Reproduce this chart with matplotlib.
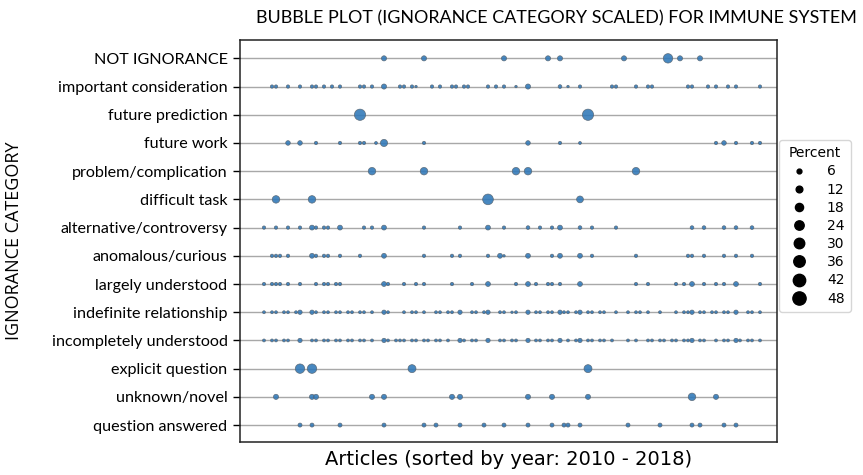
import matplotlib
matplotlib.use("Agg")
import matplotlib.pyplot as plt
from matplotlib.lines import Line2D

# ignorance categories, top to bottom
categories = ["NOT IGNORANCE", "important consideration", "future prediction",
              "future work", "problem/complication", "difficult task",
              "alternative/controversy", "anomalous/curious", "largely understood",
              "indefinite relationship", "incompletely understood",
              "explicit question", "unknown/novel", "question answered"]

# article index (sorted by year) and percent for each category
not_ignorance_x = [30, 40, 60, 71, 74, 90, 101, 104, 109]
not_ignorance_pct = [10, 10, 10, 10, 10, 10, 35, 10, 10]

important_x = [2, 3, 6, 9, 12, 13, 15, 17, 19, 24, 25, 27, 30, 34, 35, 37, 38, 42, 44, 47,
               48, 50, 51, 56, 58, 60, 63, 66, 74, 76, 79, 87, 88, 93, 96, 97, 106, 107,
               111, 113, 116, 118, 124]
important_pct = [4, 4, 4, 4, 4, 4, 4, 4, 4, 4, 4, 4, 10, 4, 4, 4, 2, 4, 4, 4,
                 4, 4, 4, 4, 4, 4, 2, 10, 5, 2, 4, 4, 4, 4, 4, 4, 4, 4,
                 4, 4, 4, 4, 4]

future_pred_x = [24, 81]
future_pred_pct = [50, 50]

future_work_x = [6, 9, 13, 19, 24, 25, 28, 30, 40, 66, 74, 79, 113, 115, 118, 122, 124]
future_work_pct = [8, 8, 4, 4, 4, 4, 3, 20, 4, 8, 4, 3, 4, 8, 4, 4, 4]

problem_x = [27, 40, 63, 66, 93]
problem_pct = [22, 22, 22, 22, 22]

difficult_x = [3, 12, 56, 79]
difficult_pct = [22, 22, 45, 18]

alternative_x = [0, 3, 6, 9, 12, 13, 15, 16, 19, 25, 27, 30, 40, 49, 56, 60, 66, 69, 72, 74,
                 79, 82, 88, 107, 110, 115, 118, 122]
alternative_pct = [4, 4, 4, 4, 9, 4, 4, 4, 9, 4, 4, 9, 4, 4, 9, 4, 5, 4, 4, 9,
                   5, 4, 4, 5, 5, 5, 5, 5]

anomalous_x = [2, 3, 4, 6, 12, 13, 15, 16, 19, 24, 30, 40, 47, 49, 56, 59, 60, 66, 72, 74,
               79, 82, 93, 106, 107, 110, 115, 118, 122]
anomalous_pct = [4, 4, 4, 4, 9, 4, 4, 4, 4, 4, 9, 4, 4, 4, 4, 9, 2, 9, 4, 9,
                 9, 4, 4, 4, 4, 4, 4, 4, 4]

largely_x = [0, 2, 3, 4, 6, 9, 13, 15, 16, 18, 19, 30, 31, 35, 38, 40, 47, 52, 56, 63,
             66, 68, 71, 72, 74, 79, 93, 96, 103, 105, 107, 110, 113, 115, 118, 124]
largely_pct = [4, 4, 4, 4, 4, 4, 4, 4, 4, 4, 4, 9, 4, 4, 4, 4, 4, 4, 9, 4,
               9, 4, 4, 4, 4, 9, 4, 4, 4, 4, 9, 4, 4, 4, 9, 4]

indefinite_x = [0, 2, 3, 5, 6, 8, 9, 12, 13, 15, 16, 18, 19, 21, 22, 24, 25, 27, 30, 31,
                35, 37, 38, 40, 43, 44, 46, 47, 49, 52, 53, 55, 56, 59, 60, 62, 63, 66, 68, 69,
                71, 72, 74, 75, 76, 78, 79, 81, 82, 84, 85, 88, 91, 93, 94, 96, 99, 103, 105, 106,
                107, 109, 110, 112, 113, 115, 116, 118, 121, 122, 124]
indefinite_pct = [3, 3, 3, 3, 3, 3, 7, 7, 3, 3, 3, 3, 3, 3, 3, 3, 3, 3, 7, 3,
                  3, 3, 3, 3, 3, 3, 3, 3, 7, 3, 3, 3, 7, 3, 3, 2, 3, 7, 3, 3,
                  3, 3, 7, 3, 3, 3, 7, 3, 3, 3, 3, 3, 3, 3, 3, 3, 3, 3, 3, 3,
                  7, 3, 3, 3, 3, 3, 3, 7, 3, 3, 3]

incompletely_x = [0, 2, 3, 5, 6, 9, 12, 13, 15, 16, 18, 19, 21, 22, 24, 25, 27, 30, 31, 33,
                  34, 35, 37, 38, 40, 41, 43, 44, 46, 49, 50, 52, 53, 56, 59, 60, 62, 63, 66, 68,
                  69, 71, 72, 74, 76, 78, 79, 81, 82, 84, 85, 87, 91, 93, 96, 97, 99, 100, 102, 103,
                  105, 106, 107, 109, 110, 113, 115, 116, 118, 119, 121, 122, 124]
incompletely_pct = [3, 3, 3, 3, 3, 7, 3, 3, 3, 3, 3, 3, 3, 3, 3, 3, 3, 7, 3, 3,
                    3, 3, 3, 3, 3, 3, 3, 3, 3, 7, 3, 3, 3, 7, 3, 3, 3, 3, 7, 3,
                    3, 3, 3, 7, 3, 3, 7, 3, 3, 3, 3, 3, 3, 3, 3, 3, 3, 3, 3, 3,
                    3, 3, 7, 3, 3, 3, 3, 3, 7, 3, 3, 3, 3]

explicit_x = [9, 12, 37, 81]
explicit_pct = [35, 35, 25, 25]

unknown_x = [3, 12, 13, 27, 30, 47, 49, 66, 72, 81, 107, 113]
unknown_pct = [10, 10, 10, 10, 10, 10, 10, 10, 10, 10, 22, 10]

answered_x = [9, 12, 19, 30, 40, 43, 49, 55, 60, 66, 72, 75, 76, 79, 91, 99, 107, 109, 115, 118]
answered_pct = [6, 6, 6, 6, 6, 6, 6, 6, 6, 6, 6, 6, 6, 6, 6, 6, 6, 6, 6, 6]

rows_x = [not_ignorance_x, important_x, future_pred_x, future_work_x, problem_x,
          difficult_x, alternative_x, anomalous_x, largely_x, indefinite_x,
          incompletely_x, explicit_x, unknown_x, answered_x]
rows_pct = [not_ignorance_pct, important_pct, future_pred_pct, future_work_pct, problem_pct,
            difficult_pct, alternative_pct, anomalous_pct, largely_pct, indefinite_pct,
            incompletely_pct, explicit_pct, unknown_pct, answered_pct]

legend_pct = [6, 12, 18, 24, 30, 36, 42, 48]


def bubble_area(p):
    return 0.6 + 1.3 * p


fig = plt.figure(figsize=(8.63, 4.75), dpi=100)
ax = fig.add_axes([240 / 863, 1 - 442 / 475, 537 / 863, 402 / 475])

for i, (xs, ps) in enumerate(zip(rows_x, rows_pct)):
    ax.axhline(i, color="#a8a8a8", lw=1.0, zorder=1)
    ax.scatter(xs, [i] * len(xs), s=[bubble_area(p) for p in ps],
               color="#2f78b8", edgecolors="#56636f", linewidths=0.5, alpha=0.88, zorder=3)

ax.set_xlim(-6, 128.25)
ax.set_ylim(13.6, -0.65)
ax.set_xticks([])
ax.set_yticks(range(len(categories)))
ax.set_yticklabels(categories, fontfamily="Lato", fontsize=11.6)
ax.tick_params(axis="y", length=5, width=1, pad=4)
for sp in ax.spines.values():
    sp.set_color("#222222")
    sp.set_linewidth(1.1)

ax.set_xlabel("Articles (sorted by year: 2010 - 2018)", fontsize=14, labelpad=6)
ax.set_ylabel("IGNORANCE CATEGORY", fontfamily="Open Sans", fontsize=13)
ax.yaxis.set_label_coords(-0.405, 0.5)
fig.text(556 / 863, 1 - 18 / 475, "BUBBLE PLOT (IGNORANCE CATEGORY SCALED) FOR IMMUNE SYSTEM",
         ha="center", va="center", fontfamily="Lato", fontsize=12.9)

handles = [Line2D([], [], ls="", marker="o", color="black",
                  markersize=bubble_area(p) ** 0.5 * 1.2) for p in legend_pct]
fig.legend(handles, [str(p) for p in legend_pct], title="Percent",
           loc="upper left", bbox_to_anchor=(779 / 863, 1 - 140 / 475),
           borderaxespad=0, fontsize=10, title_fontsize=10, frameon=True,
           handletextpad=1.0, labelspacing=0.3, borderpad=0.45)

fig.savefig("out.png", dpi=100)
